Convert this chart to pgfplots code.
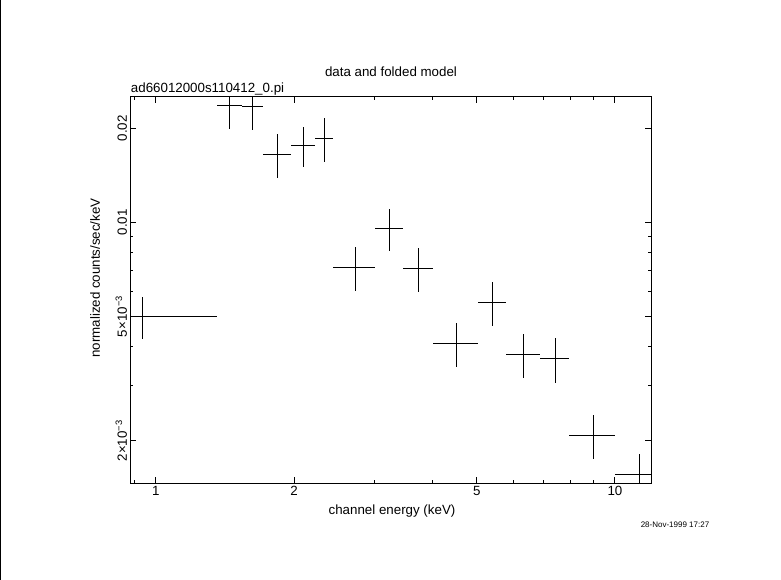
\documentclass[border=0pt]{standalone}
\usepackage{fontspec}
\setmainfont{Liberation Sans}
\usepackage{pgfplots}
\usepackage{pgfplotstable}
\pgfplotsset{compat=1.18}
\pgfplotstableread{
x      xe     y        ye
0.937  0.423  0.00500  0.00078
1.4485 0.0885 0.02375  0.00385
1.626  0.089  0.02351  0.00376
1.841  0.126  0.01651  0.00265
2.096  0.129  0.01764  0.00262
2.3305 0.1055 0.01858  0.00297
2.7215 0.2855 0.007176 0.00114
3.2265 0.2195 0.00957  0.00148
3.7325 0.2865 0.00714  0.00114
4.5195 0.5005 0.004099 0.00066
5.3985 0.3785 0.005545 0.00089
6.3135 0.5365 0.003779 0.00060
7.405  0.555  0.003669 0.00060
8.970  1.010  0.002080 0.00034
11.29  1.31   0.001563 0.00025
}\spectrum
\begin{document}
\begin{tikzpicture}
\fill[white] (0,0) rectangle (585.75pt,435pt);
\path[use as bounding box] (0,0) rectangle (585.75pt,435pt);
\draw[line width=0.75pt] (0.375pt,0) -- (0.375pt,435pt);
\begin{axis}[
  at={(97.5pt,72.75pt)}, anchor=south west,
  scale only axis, width=390.75pt, height=289.7pt,
  xmode=log, ymode=log,
  xmin=0.878, xmax=11.98, ymin=0.001463, ymax=0.02525,
  axis line style={line width=0.75pt},
  every tick/.style={black, line width=0.75pt},
  major tick length=4.5pt, minor tick length=2.25pt,
  tick align=inside,
  xtick={1,2,5,10}, xticklabels={1,2,5,10},
  minor xtick={0.9,3,4,6,7,8,9},
  ytick={0.002,0.005,0.01,0.02},
  yticklabels={2×10\textsuperscript{−3},5×10\textsuperscript{−3},0.01,0.02},
  minor ytick={0.003,0.004,0.006,0.007,0.008,0.009},
  tick label style={font=\fontsize{10}{12}\selectfont},
  yticklabel style={rotate=90, anchor=south, inner sep=2pt},
  xticklabel style={inner sep=2pt},
  clip=true,
]
\addplot[draw=none, no markers,
  error bars/.cd, x dir=both, x explicit, y dir=both, y explicit,
  error mark=none, error bar style={draw=black, line width=0.75pt}]
  table[x=x, y=y, x error=xe, y error=ye] {\spectrum};
\end{axis}
\node[font=\fontsize{10}{12}\selectfont] at (293.25pt,381pt) {data and folded model};
\node[font=\fontsize{10}{12}\selectfont, anchor=west, inner sep=0pt] at (98pt,368.25pt) {ad66012000s110412\_0.pi};
\node[font=\fontsize{10}{12}\selectfont] at (294pt,51.75pt) {channel energy (keV)};
\node[font=\fontsize{10}{12}\selectfont, rotate=90] at (71.25pt,226.5pt) {normalized counts/sec/keV};
\node[font=\fontsize{6}{7}\selectfont] at (506.25pt,41.25pt) {28-Nov-1999 17:27};
\end{tikzpicture}
\end{document}
